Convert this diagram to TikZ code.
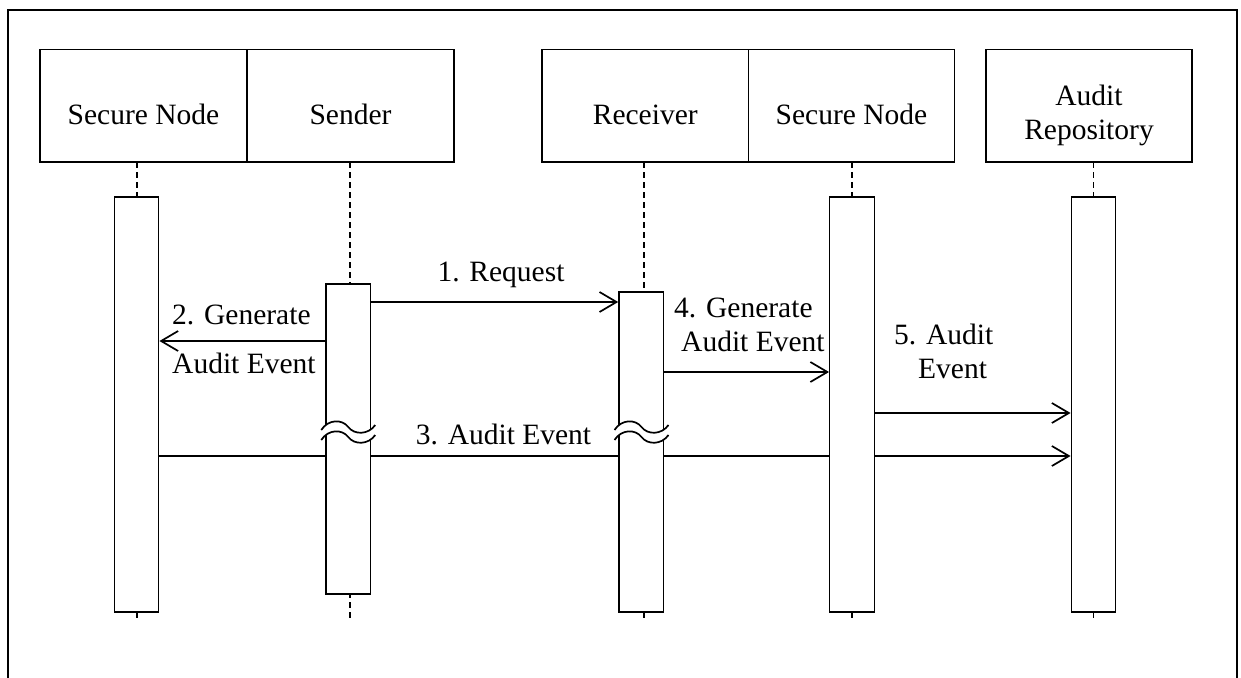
\documentclass[tikz,border=0pt]{standalone}
\usepackage{fontspec}
\setmainfont{Liberation Serif}
\usetikzlibrary{arrows.meta}
\tikzset{
  lbl/.style={inner sep=0pt, font=\fontsize{29.5}{34}\selectfont},
  head/.style={draw, line width=1.4pt, minimum height=112.5pt, inner sep=0pt,
    text height=38pt, text depth=0pt, font=\fontsize{29.5}{34}\selectfont},
  actbox/.style={draw, fill=white, line width=1.4pt, inner sep=0pt, minimum width=44.5pt},
  life/.style={line width=1.5pt, dash pattern=on 6pt off 4pt},
  msg/.style={line width=2pt, -{Straight Barb[length=17pt, width=20pt, line width=1.7pt]}},
  brk/.pic={
    \fill[white] (-27,3) .. controls (-20,-8) and (-6,-8) .. (0,0) .. controls (6,8) and (20,8) .. (27,-2)
      -- (27,8) .. controls (20,18) and (6,18) .. (0,10) .. controls (-6,2) and (-20,2) .. (-27,13) -- cycle;
    \draw[line width=1.7pt] (-27,3) .. controls (-20,-8) and (-6,-8) .. (0,0) .. controls (6,8) and (20,8) .. (27,-2);
    \draw[line width=1.7pt] (-27,13) .. controls (-20,2) and (-6,2) .. (0,10) .. controls (6,18) and (20,18) .. (27,8);
  }
}
\begin{document}
\begin{tikzpicture}[x=1pt,y=-1pt]
\useasboundingbox (0,0) rectangle (1241,677);
% frame
\draw[line width=2pt] (8,690) -- (8,10) -- (1237,10) -- (1237,690);

% header boxes
\node[head, minimum width=207pt] (hSN1) at (143.5,105.75) {Secure Node};
\node[head, minimum width=207pt] (hSnd) at (350.5,105.75) {Sender};
\node[head, minimum width=206.5pt] (hRcv) at (645.25,105.75) {Receiver};
\node[head, minimum width=206pt] (hSN2) at (851.5,105.75) {Secure Node};
\node[draw, line width=1.4pt, minimum width=206pt, minimum height=112.5pt] (hAR) at (1089,105.75) {};
\node[lbl, anchor=base] (tAR1) at (1089,105.5) {Audit};
\node[lbl, anchor=base] (tAR2) at (1089,139.5) {Repository};

% lifeline ends
\coordinate (e1) at (137,619);
\coordinate (e2) at (350,619);
\coordinate (e3) at (644,619);
\coordinate (e4) at (852,619);
\coordinate (e5) at (1093.5,619);
\draw[life] (137,162) -- (e1);
\draw[life] (350,162) -- (e2);
\draw[life] (644,162) -- (e3);
\draw[life] (852,162) -- (e4);
\draw[life] (1093.5,162) -- (e5);

% message rows
\coordinate (r1) at (0,302);
\coordinate (r2) at (0,341);
\coordinate (r3) at (0,456);
\coordinate (r4) at (0,372);
\coordinate (r5) at (0,413);

% long arrow 3 drawn first, hidden by bars
\node[actbox, minimum height=415pt, draw=none, fill=none] (a1) at (136.5,404.5) {};
\node[actbox, minimum height=415pt, draw=none, fill=none] (a5) at (1093.5,404.5) {};
\draw[msg] (a1.east |- r3) -- (a5.west |- r3);

\node[actbox, minimum height=415pt] (a1b) at (136.5,404.5) {};
\node[actbox, minimum height=310pt] (a2) at (348.25,439) {};
\node[actbox, minimum height=320pt] (a3) at (641.15,452) {};
\node[actbox, minimum height=415pt] (a4) at (852,404.5) {};
\node[actbox, minimum height=415pt] (a5b) at (1093.5,404.5) {};

% messages
\draw[msg] (a2.east |- r1) -- (a3.west |- r1);
\draw[msg] (a2.west |- r2) -- (a1b.east |- r2);
\draw[msg] (a3.east |- r4) -- (a4.west |- r4);
\draw[msg] (a4.east |- r5) -- (a5b.west |- r5);

% break marks
\pic at (348.25,427) {brk};
\pic at (641.5,427) {brk};

% labels
\node[lbl, anchor=base] (l1) at (501,281) {1. Request};
\node[lbl, anchor=base west] (l2a) at (172,324) {2. Generate};
\node[lbl, anchor=base west] (l2b) at (172,373) {Audit Event};
\node[lbl, anchor=base] (l3) at (503.5,444) {3. Audit Event};
\node[lbl, anchor=base west] (l4a) at (674,317) {4. Generate};
\node[lbl, anchor=base west] (l4b) at (681,351) {Audit Event};
\node[lbl, anchor=base west] (l5a) at (894,344) {5. Audit};
\node[lbl, anchor=base west] (l5b) at (918,378) {Event};
\end{tikzpicture}
\end{document}
